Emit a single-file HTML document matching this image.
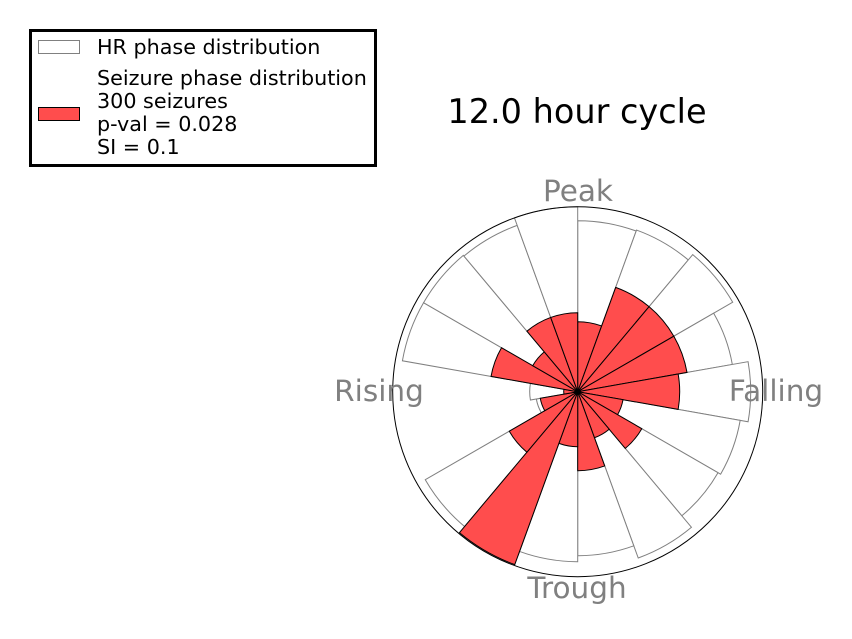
<!DOCTYPE html>
<html><head><meta charset="utf-8"><style>
body{margin:0;background:#fff;width:852px;height:634px;overflow:hidden;font-family:"Liberation Sans","DejaVu Sans",sans-serif}
</style></head><body>
<svg id="chart" width="852" height="634" xmlns="http://www.w3.org/2000/svg" style="font-family:'DejaVu Sans','Liberation Sans',sans-serif">
<text x="577" y="123" font-size="33.5" text-anchor="middle" fill="#000">12.0 hour cycle</text>
<g id="bars-hr"></g>
<g id="bars-sz"></g>
<circle cx="577.7" cy="391.7" r="185" fill="none" stroke="#000" stroke-width="1"/>
<text x="578" y="201" font-size="29.5" text-anchor="middle" fill="#808080">Peak</text>
<text x="776" y="401" font-size="29.5" text-anchor="middle" fill="#808080">Falling</text>
<text x="577" y="598" font-size="29.5" text-anchor="middle" fill="#808080">Trough</text>
<text x="379" y="401" font-size="29.5" text-anchor="middle" fill="#808080">Rising</text>
<g>
<rect x="30.5" y="30.5" width="345" height="135" fill="#fff" stroke="#000" stroke-width="3"/>
<rect x="38.5" y="40.5" width="41" height="13" fill="#fff" stroke="#808080"/>
<text x="97" y="54" font-size="20.7">HR phase distribution</text>
<rect x="38.5" y="107.5" width="41" height="13" fill="#ff4d4d" stroke="#000"/>
<text font-size="20.7"><tspan x="97" y="85">Seizure phase distribution</tspan><tspan x="97" y="108">300 seizures</tspan><tspan x="97" y="131">p-val = 0.028</tspan><tspan x="97" y="154">SI = 0.1</tspan></text>
</g>
</svg>
<script>
const binStarts = [0,20,40,60,80,100,120,140,160,180,200,220,240,260,280,300,320,340];
const hrValues = [171,172,179,157,173,165,162,177,164,170,174,176,42,48,178,178,177,185];
const seizureValues = [70,111,111,111,102,46,74,49,79,55,184,79,38,14,88,52,79,79];
const rMax = 185;
const cx = 577.7, cy = 391.7, R = 185;
function rScale(v){return v / rMax * R;}
function pt(deg, r){const a = deg*Math.PI/180; return [cx + r*Math.sin(a), cy - r*Math.cos(a)];}
function wedge(a0, a1, r){
  const p0 = pt(a0, r), p1 = pt(a1, r);
  return `M${cx},${cy}L${p0[0]},${p0[1]}A${r},${r} 0 0 1 ${p1[0]},${p1[1]}Z`;
}
const NS = "http://www.w3.org/2000/svg";
function draw(gid, vals, fill, stroke, name){
  const g = document.getElementById(gid);
  vals.forEach((v,i)=>{
    const p = document.createElementNS(NS,'path');
    p.setAttribute('d', wedge(binStarts[i], binStarts[i]+20, rScale(v)));
    p.setAttribute('fill', fill);
    p.setAttribute('stroke', stroke);
    p.setAttribute('stroke-width', '1');
    
    
    g.appendChild(p);
  });
}
draw('bars-hr', hrValues, '#fff', '#808080', 'hr-bar');
draw('bars-sz', seizureValues, '#ff4d4d', '#000', 'seizure-bar');
</script>
</body></html>
